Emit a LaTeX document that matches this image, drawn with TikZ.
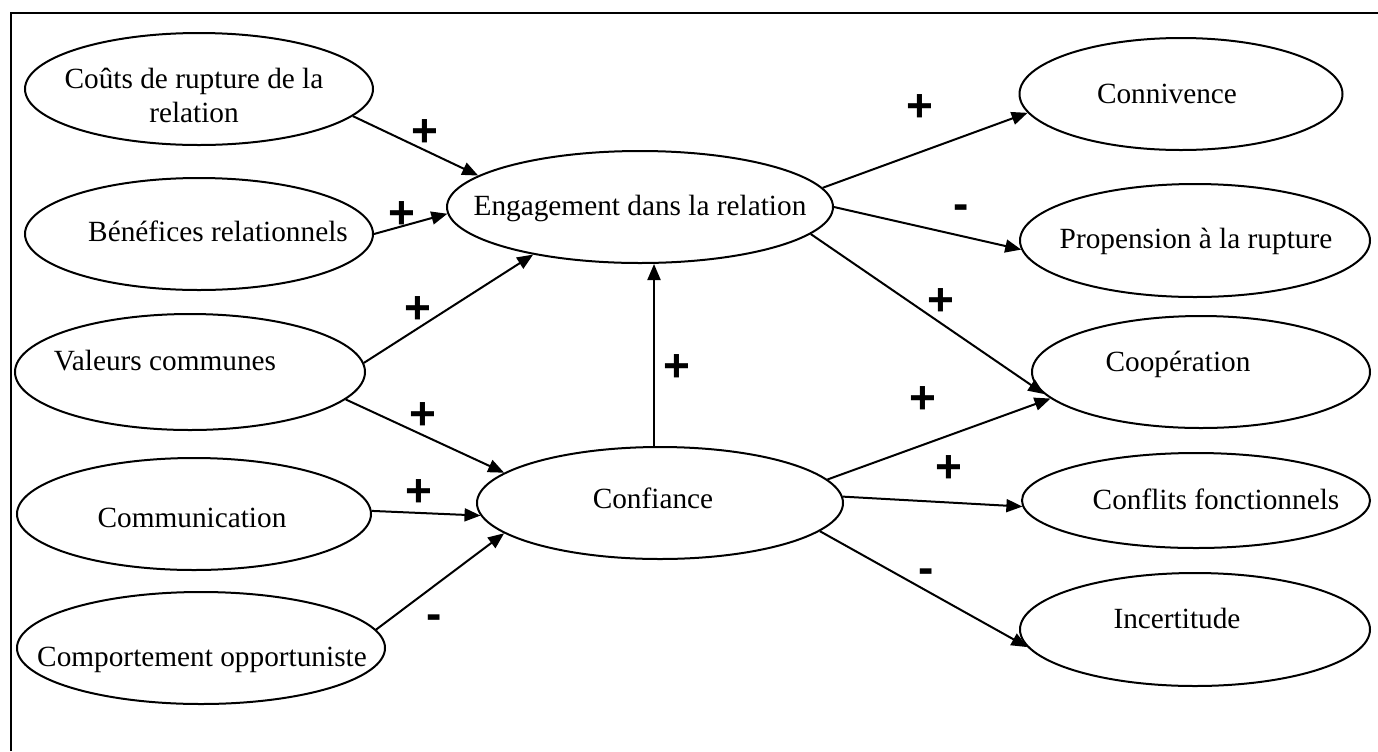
\documentclass[tikz,border=0pt]{standalone}
\usepackage{fontspec}
\setmainfont{Liberation Serif}
\newfontfamily\signfont{Liberation Sans}
\usetikzlibrary{arrows.meta,shapes.geometric}
\tikzset{
  oval/.style={ellipse, draw, line width=1pt, inner sep=0pt},
  lbl/.style={anchor=base, inner sep=0pt, font=\fontsize{14.65}{17}\selectfont, align=center},
  sign/.style={anchor=base, inner sep=0pt, font=\signfont\bfseries\fontsize{23}{26}\selectfont},
  arr/.style={line width=1pt, -{Triangle[length=8pt,width=6.5pt]}},
  frame/.style={line width=1pt}
}
\begin{document}
\begin{tikzpicture}[x=0.5pt,y=-0.5pt]
\useasboundingbox (0,0) rectangle (1378,751);
\draw[frame] (10.5,751) -- (10.5,12.5) -- (1378,12.5);

% left column
\node[oval, minimum width=174pt, minimum height=56pt] (cout) at (199,89) {};
\node[lbl] (cout-t) at (194,122) {Coûts de rupture de la\\relation};
\node[oval, minimum width=174pt, minimum height=56pt] (bene) at (199,234) {};
\node[lbl] (bene-t) at (218,241) {Bénéfices relationnels};
\node[oval, minimum width=175pt, minimum height=58pt] (val) at (190,372) {};
\node[lbl] (val-t) at (165,370) {Valeurs communes};
\node[oval, minimum width=177pt, minimum height=56pt] (comm) at (194,514) {};
\node[lbl] (comm-t) at (192,527) {Communication};
\node[oval, minimum width=184pt, minimum height=56pt] (comp) at (201,648) {};
\node[lbl] (comp-t) at (202,666) {Comportement opportuniste};

% centre
\node[oval, minimum width=193pt, minimum height=56pt] (eng) at (640,207) {};
\node[lbl] (eng-t) at (640,215) {Engagement dans la relation};
\node[oval, minimum width=183pt, minimum height=56pt] (conf) at (660,503) {};
\node[lbl] (conf-t) at (653,508) {Confiance};

% right column
\node[oval, minimum width=161.5pt, minimum height=56pt] (conn) at (1181,94) {};
\node[lbl] (conn-t) at (1167,103) {Connivence};
\node[oval, minimum width=175pt, minimum height=56.5pt] (prop) at (1195,240.5) {};
\node[lbl] (prop-t) at (1196,248) {Propension à la rupture};
\node[oval, minimum width=169pt, minimum height=56pt] (coop) at (1201,372) {};
\node[lbl] (coop-t) at (1178,371) {Coopération};
\node[oval, minimum width=174pt, minimum height=47.5pt] (confl) at (1196,500.5) {};
\node[lbl] (confl-t) at (1216,509) {Conflits fonctionnels};
\node[oval, minimum width=175pt, minimum height=56.5pt] (inc) at (1195,629.5) {};
\node[lbl] (inc-t) at (1177,628) {Incertitude};

% connectors
\draw[arr] (cout.-10.4) -- (eng.169.85);
\draw[arr] (bene.0) -- (eng.182.5);
\draw[arr] (val.3) -- (eng.204.1);
\draw[arr] (val.-10.95) -- (conf.169.5);
\draw[arr] (comm.1.9) -- (conf.184.4);
\draw[arr] (comp.6.6) -- (conf.191.5);
\draw[arr] (conf.96.1) -- (conf.96.1 |- eng.south);
\draw[arr] (eng.6.8) -- (conn.187.6);
\draw[arr] (eng.-0.9) -- (prop.183.05);
\draw[arr] (eng.-9.4) -- (coop.188.9);
\draw[arr] (conf.8.2) -- (coop.190);
\draw[arr] (conf.2.5) -- (confl.182.8);
\draw[arr] (conf.-10.8) -- (inc.186.6);

% signs
\node[sign] (s1) at (425,146) {+};
\node[sign] (s2) at (402,228) {+};
\node[sign] (s3) at (418,323) {+};
\node[sign] (s4) at (423,429) {+};
\node[sign] (s5) at (419,506) {+};
\node[sign] (s6) at (434,629) {-};
\node[sign] (s7) at (677,381) {+};
\node[sign] (s8) at (920,121) {+};
\node[sign] (s9) at (961,219) {-};
\node[sign] (s10) at (941,315) {+};
\node[sign] (s11) at (923,413) {+};
\node[sign] (s12) at (949,482) {+};
\node[sign] (s13) at (926,583) {-};
\end{tikzpicture}
\end{document}
